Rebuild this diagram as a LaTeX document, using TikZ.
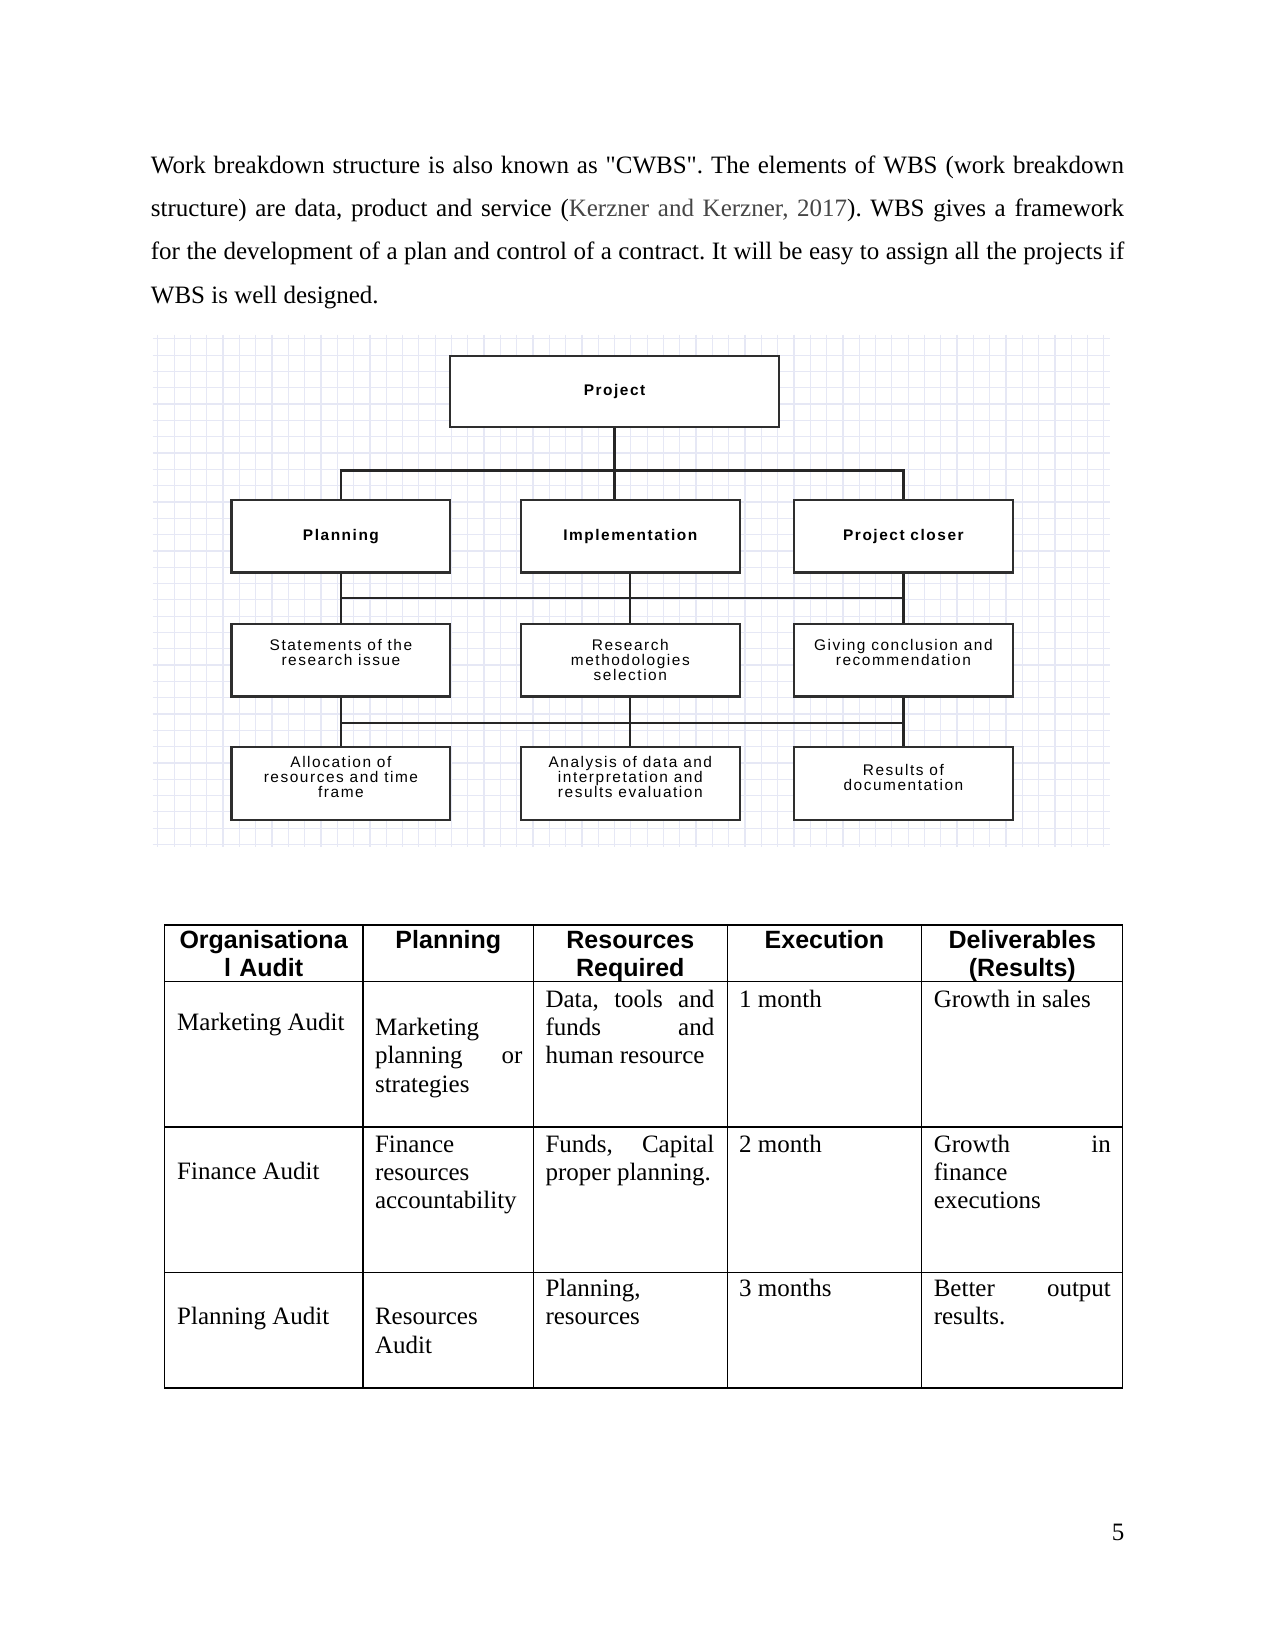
\documentclass[tikz,border=0pt]{standalone}
\usepackage{fontspec}
\setmainfont{Liberation Serif}
\setsansfont{Liberation Sans}
\newfontfamily\boxfont[LetterSpace=10]{Liberation Sans}
\newfontfamily\quotefont{Liberation Serif}
\definecolor{gridcol}{RGB}{230,232,245}
\definecolor{citegray}{RGB}{70,70,70}
\hyphenpenalty=10000
\exhyphenpenalty=10000
\frenchspacing

\begin{document}
\begin{tikzpicture}[x=0.505pt,y=-0.505pt,
  box/.style={rectangle,draw=black!82,line width=1.1pt,fill=white,minimum width=105pt,minimum height=34.8pt,inner sep=1pt,align=center,font=\boxfont\fontsize{7.4}{7.2}\selectfont},
  boldbox/.style={box,font=\boxfont\bfseries\fontsize{7.4}{7.2}\selectfont},
  rootbox/.style={boldbox,minimum width=157.6pt,minimum height=34.3pt},
  conn/.style={draw=black!85,line width=1.1pt},
  gridln/.style={draw=gridcol,line width=0.6pt},
  hd/.style={anchor=base,align=center,inner sep=0pt,font=\sffamily\bfseries\fontsize{12}{13.6}\selectfont},
  cell/.style={anchor=base west,align=justify,inner sep=0pt,font=\fontsize{12}{13.6}\selectfont},
  tabline/.style={draw=black,line width=0.6pt}
]
  \useasboundingbox[fill=white] (0,0) rectangle (1212,1568);

  \node[anchor=base west,inner sep=0pt,text width=467.1pt,align=justify,font=\fontsize{12}{20.7}\selectfont] (intro) at (143,165)
    {Work breakdown structure is also known as {\quotefont"}CWBS{\quotefont"}. The elements of WBS (work breakdown\linebreak
     structure) are data, product and service ({\color{citegray}Kerzner and Kerzner, 2017}). WBS gives a framework\linebreak
     for the development of a plan and control of a contract. It will be easy to assign all the projects if\linebreak
     WBS is well designed.};

  \foreach \gx in {150,165.5,...,1052} \draw[gridln] (\gx,318) -- (\gx,805);
  \foreach \gy in {322,337.5,...,803} \draw[gridln] (145,\gy) -- (1055,\gy);

  \node[rootbox] (proj) at (584,372) {Project};
  \node[boldbox] (plan) at (324,509.5) {Planning};
  \node[boldbox] (impl) at (599,509.5) {Implementation};
  \node[boldbox] (clos) at (858.5,509.5) {Project closer};
  \node[box] (stmt) at (324,627.5) {Statements of the\\research issue\\[0pt]\mbox{}};
  \node[box] (meth) at (599,627.5) {Research\\methodologies\\selection};
  \node[box] (conc) at (858.5,627.5) {Giving conclusion and\\recommendation\\[0pt]\mbox{}};
  \node[box] (alloc) at (324,744.5) {Allocation of\\resources and time\\frame\\[-1pt]\mbox{}};
  \node[box] (anal) at (599,744.5) {Analysis of data and\\interpretation and\\results evaluation\\[-1pt]\mbox{}};
  \node[box] (docu) at (858.5,744.5) {Results of\\documentation\\[-1pt]\mbox{}};

  \coordinate (bus1) at (0,447);
  \coordinate (bus2) at (0,568);
  \coordinate (bus3) at (0,687);
  \draw[conn] (proj.south) -- (proj.south |- impl.north);
  \draw[conn] (plan.north) |- (bus1 -| clos.north) -- (clos.north);
  \draw[conn] (plan.south) -- (stmt.north);
  \draw[conn] (impl.south) -- (meth.north);
  \draw[conn] (clos.south) -- (conc.north);
  \draw[conn] (bus2 -| plan.south) -- (bus2 -| clos.south);
  \draw[conn] (stmt.south) -- (alloc.north);
  \draw[conn] (meth.south) -- (anal.north);
  \draw[conn] (conc.south) -- (docu.north);
  \draw[conn] (bus3 -| stmt.south) -- (bus3 -| conc.south);

  \draw[tabline] (156,879) rectangle (1067,1319);
  \foreach \ty in {933,1071,1209} \draw[tabline] (156,\ty) -- (1067,\ty);
  \foreach \tx in {345,507,691,876} \draw[tabline] (\tx,879) -- (\tx,1319);

  \node[hd,text width=92pt] (h1) at (250.5,901) {Organisationa\\l Audit};
  \node[hd,text width=78pt] (h2) at (426,901) {Planning};
  \node[hd,text width=90pt] (h3) at (599,901) {Resources\\Required};
  \node[hd,text width=90pt] (h4) at (783.5,901) {Execution};
  \node[hd,text width=92pt] (h5) at (971.5,901) {Deliverables\\(Results)};

  \node[cell,text width=84pt] (a1) at (168,979) {Marketing Audit};
  \node[cell,text width=70.7pt] (b1) at (356,984) {Marketing planning or strategies};
  \node[cell,text width=81pt] (c1) at (518,957) {Data, tools and\linebreak funds and\linebreak human resource};
  \node[cell,text width=82pt] (d1) at (702,957) {1 month};
  \node[cell,text width=85pt] (e1) at (887,957) {Growth in sales};

  \node[cell,text width=84pt] (a2) at (168,1121) {Finance Audit};
  \node[cell,text width=70.7pt] (b2) at (356,1095) {Finance resources accountability};
  \node[cell,text width=81pt] (c2) at (518,1095) {Funds, Capital proper planning.};
  \node[cell,text width=82pt] (d2) at (702,1095) {2 month};
  \node[cell,text width=85pt] (e2) at (887,1095) {Growth in\linebreak finance executions};

  \node[cell,text width=84pt] (a3) at (168,1259) {Planning Audit};
  \node[cell,text width=70.7pt] (b3) at (356,1259) {Resources Audit};
  \node[cell,text width=81pt] (c3) at (518,1232) {Planning, resources};
  \node[cell,text width=82pt] (d3) at (702,1232) {3 months};
  \node[cell,text width=85pt] (e3) at (887,1232) {Better output results.};

  \node[anchor=base east,inner sep=0pt,font=\fontsize{12}{14}\selectfont] (pgno) at (1069,1464) {5};
\end{tikzpicture}
\end{document}
